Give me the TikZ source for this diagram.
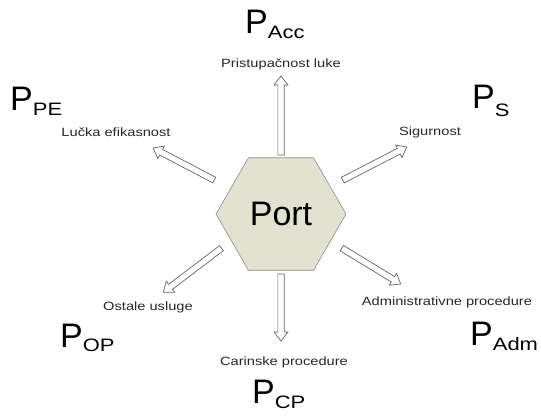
\documentclass[tikz,border=0pt]{standalone}
\usepackage{fontspec}
\setmainfont{Liberation Sans}
\newfontfamily\lblfont[FakeStretch=1.22]{Liberation Sans}
\usetikzlibrary{shapes.geometric,shapes.arrows}
\definecolor{hexfill}{RGB}{226,226,210}
\definecolor{hexline}{RGB}{140,140,125}
\definecolor{arrline}{RGB}{100,100,100}
\tikzset{
 lbl/.style={font=\lblfont\fontsize{12}{12}\selectfont, inner sep=0pt, text=black!85},
 plbl/.style={anchor=base west, inner sep=0pt},
 barrow/.style={single arrow, draw=arrline, fill=white, line width=0.7pt, inner sep=2.8pt,
   single arrow head extend=3.8pt, single arrow tip angle=75, single arrow head indent=0pt,
   sloped, allow upside down, anchor=center},
}
\newcommand{\PLab}[2]{{\fontsize{34}{34}\selectfont P}{\lblfont\fontsize{18}{18}\selectfont\raisebox{-#2pt}{#1}}}
\begin{document}
\begin{tikzpicture}[x=1pt,y=-1pt]
\useasboundingbox (0,0) rectangle (541,418);
% hexagon
\node[regular polygon, regular polygon sides=6, minimum size=130pt, inner sep=0pt,
  fill=hexfill, draw=hexline, line width=0.6pt,
  font=\fontsize{34}{34}\selectfont] (port) at (281,214) {Port};
% arrow coordinates
\coordinate (s1) at (281,157); \coordinate (e1) at (281,78);
\coordinate (s2) at (216,181); \coordinate (e2) at (155,149);
\coordinate (s3) at (341,181); \coordinate (e3) at (405,148);
\coordinate (s4) at (223,247); \coordinate (e4) at (165,291);
\coordinate (s5) at (340,247); \coordinate (e5) at (399,283);
\coordinate (s6) at (281,272); \coordinate (e6) at (281,339);
\path (s1) -- node[barrow, minimum height=79pt]{} (e1);
\path (s2) -- node[barrow, minimum height=69pt]{} (e2);
\path (s3) -- node[barrow, minimum height=72pt]{} (e3);
\path (s4) -- node[barrow, minimum height=73pt]{} (e4);
\path (s5) -- node[barrow, minimum height=69pt]{} (e5);
\path (s6) -- node[barrow, minimum height=67pt]{} (e6);
% small labels
\node[lbl] (l1) at (281,64) {Pristupačnost luke};
\node[lbl] (l2) at (116,132) {Lučka efikasnost};
\node[lbl] (l3) at (430,132) {Sigurnost};
\node[lbl] (l4) at (148,307) {Ostale usluge};
\node[lbl] (l5) at (447,302) {Administrativne procedure};
\node[lbl] (l6) at (284,362) {Carinske procedure};
% P labels
\node[plbl] (p1) at (245,33) {\PLab{Acc}{5}};
\node[plbl] (p2) at (10,110) {\PLab{PE}{5}};
\node[plbl] (p3) at (472,108) {\PLab{S}{8}};
\node[plbl] (p4) at (60,347) {\PLab{OP}{4}};
\node[plbl] (p5) at (470,345) {\PLab{Adm}{5}};
\node[plbl] (p6) at (252,403) {\PLab{CP}{5}};
\end{tikzpicture}
\end{document}
